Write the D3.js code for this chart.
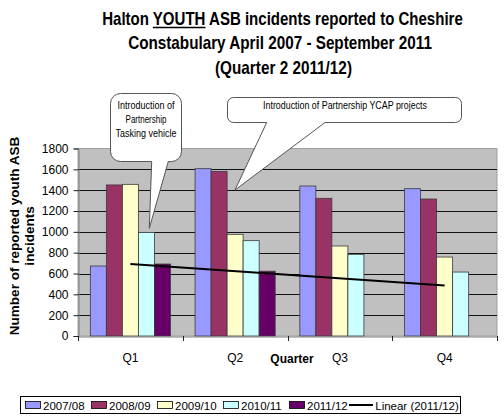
<!DOCTYPE html>
<html><head><meta charset="utf-8">
<script src="https://cdn.jsdelivr.net/npm/d3@7"></script>
<style>
html,body{margin:0;padding:0;background:#fff;}
svg{display:block;font-family:"Liberation Sans",Arial,sans-serif;}
</style></head>
<body>
<svg id="c" width="504" height="417"></svg>
<script>
const categories = ["Q1","Q2","Q3","Q4"];
const seriesNames = ["2007/08","2008/09","2009/10","2010/11","2011/12"];
const v2007 = [672, 1606, 1440, 1414];
const v2008 = [1450, 1581, 1322, 1315];
const v2009 = [1456, 976, 864, 758];
const v2010 = [995, 915, 784, 614];
const v2011 = [691, 622, null, null];
const yTicks = [0,200,400,600,800,1000,1200,1400,1600,1800];
const colors = ["#9999FF","#993366","#FFFFCC","#CCFFFF","#660066"];
const seriesValues = [v2007, v2008, v2009, v2010, v2011];

const svg = d3.select("#c");
const L = 78, R = 497, T = 148.5, B = 336;

const x = d3.scaleBand().domain(categories).range([L, R]).padding(0);
const x1 = d3.scaleBand().domain(seriesNames).range([0, x.bandwidth()]).paddingInner(0).paddingOuter(0.77);
const y = d3.scaleLinear().domain([0, 1800]).range([B, T]);

// horizontally condensed text, centred at (cx, by)
function fitText(parent, str, cx, by, width){
  const g = parent.append("g");
  const t = g.append("text").attr("x",0).attr("y",0).attr("text-anchor","middle").text(str);
  const w = t.node().getComputedTextLength();
  const k = Math.min(1, width / w);
  g.attr("transform",`translate(${cx},${by}) scale(${k},1)`);
  return {g, t, k};
}

// Title
const title = svg.append("g").attr("font-weight","bold").attr("font-size",17.5).attr("fill","#000");
const line1 = "Halton YOUTH ASB incidents reported to Cheshire";
const f1 = fitText(title, line1, 282.5, 25, 361);
const ui = line1.indexOf("YOUTH");
const n1 = f1.t.node();
const ux0 = n1.getStartPositionOfChar(ui).x, ux1 = n1.getEndPositionOfChar(ui+4).x;
f1.g.append("line").attr("x1",ux0).attr("x2",ux1).attr("y1",2.5).attr("y2",2.5).attr("stroke","#000").attr("stroke-width",1.4);
fitText(title, "Constabulary April 2007 - September 2011", 280, 49, 304);
fitText(title, "(Quarter 2 2011/12)", 283.5, 73.5, 137);

// Plot background
svg.append("rect").attr("x",L).attr("y",T).attr("width",R-L).attr("height",B-T)
  .attr("fill","#C0C0C0").attr("stroke","#A0A0A0").attr("stroke-width",1);

// gridlines
svg.append("g").selectAll("line").data(yTicks.filter(d=>d>0 && d<1800)).join("line")
  .attr("x1",L).attr("x2",R)
  .attr("y1",d=>Math.round(y(d))+0.5).attr("y2",d=>Math.round(y(d))+0.5)
  .attr("stroke","#111").attr("stroke-width",1);

// bars
const groups = svg.append("g").selectAll("g").data(seriesNames).join("g")
  .attr("fill",(d,i)=>colors[i]);
groups.selectAll("rect").data((s,i)=>categories.map((c,j)=>({c, s, v: seriesValues[i][j]})).filter(d=>d.v!=null))
  .join("rect")
  .attr("x",d=>x(d.c)+x1(d.s))
  .attr("width",x1.bandwidth())
  .attr("y",d=>y(d.v))
  .attr("height",d=>B-y(d.v))
  .attr("stroke","#3a3a3a").attr("stroke-width",0.8);

// trendline (linear regression of 2011/12 series)
const pts = v2011.map((v,i)=>[i+1,v]).filter(p=>p[1]!=null);
const mx = d3.mean(pts,p=>p[0]), my = d3.mean(pts,p=>p[1]);
const slope = d3.sum(pts,p=>(p[0]-mx)*(p[1]-my))/d3.sum(pts,p=>(p[0]-mx)**2);
const icpt = my - slope*mx;
const trend = categories.map((c,i)=>({c, v: icpt + slope*(i+1)}));
svg.append("path").datum([trend[0], trend[trend.length-1]])
  .attr("d", d3.line().x(d=>x(d.c)+x.bandwidth()/2).y(d=>y(d.v)))
  .attr("stroke","#000").attr("stroke-width",2).attr("fill","none");

// Y axis
const yAxis = svg.append("g").attr("transform",`translate(${L+0.5},0)`)
  .call(d3.axisLeft(y).tickValues(yTicks).tickSize(5).tickPadding(5).tickFormat(d3.format("d")));
yAxis.select(".domain").attr("stroke","#808080");
yAxis.selectAll(".tick line").attr("stroke","#222");
yAxis.selectAll(".tick text").attr("font-size",12).attr("font-family","Liberation Sans, Arial, sans-serif").attr("fill","#000");

// X axis
const xAxis = svg.append("g").attr("transform",`translate(0,${B+0.5})`)
  .call(d3.axisBottom(x).tickSize(0).tickPadding(17));
xAxis.select(".domain").attr("stroke","#808080");
xAxis.selectAll(".tick text").attr("font-size",12).attr("font-family","Liberation Sans, Arial, sans-serif").attr("fill","#000");
svg.append("g").selectAll("line").data(categories.map(c=>x(c)).concat([R])).join("line")
  .attr("x1",d=>Math.round(d)+0.5).attr("x2",d=>Math.round(d)+0.5)
  .attr("y1",B).attr("y2",B+5).attr("stroke","#222");

// axis titles
svg.append("text").attr("x",292).attr("y",363).attr("text-anchor","middle")
  .attr("font-size",12).attr("font-weight","bold").text("Quarter");
const yt = svg.append("g").attr("transform","translate(0,236) rotate(-90)")
  .attr("font-size",13.5).attr("font-weight","bold");
fitText(yt, "Number of reported youth ASB", 0, 19, 218);
fitText(yt, "incidents", 0, 34, 66);

// Callouts
function callout(x0,y0,x1c,y1c,r,b0,b1,tx,ty){
  const p = d3.path();
  p.moveTo(x0+r,y0);
  p.lineTo(x1c-r,y0); p.arcTo(x1c,y0,x1c,y0+r,r);
  p.lineTo(x1c,y1c-r); p.arcTo(x1c,y1c,x1c-r,y1c,r);
  p.lineTo(b1,y1c); p.lineTo(tx,ty); p.lineTo(b0,y1c);
  p.lineTo(x0+r,y1c); p.arcTo(x0,y1c,x0,y1c-r,r);
  p.lineTo(x0,y0+r); p.arcTo(x0,y0,x0+r,y0,r);
  p.closePath();
  return p.toString();
}
svg.append("path").attr("d",callout(110.5,93.5,181.5,161.5,10,151.7,168.3,149.3,228.3))
  .attr("fill","#fff").attr("stroke","#555").attr("stroke-width",1);
svg.append("path").attr("d",callout(227.5,97.5,461.5,122.5,6,266.7,325,235,190))
  .attr("fill","#fff").attr("stroke","#555").attr("stroke-width",1);
const ct = svg.append("g").attr("font-size",10.5).attr("fill","#000");
[["Introduction of",109,57],["Partnership",123,41],["Tasking vehicle",137,61]].forEach(([t,yy,w])=>
  fitText(ct, t, 146, yy, w));
fitText(ct, "Introduction of Partnership YCAP projects", 345, 109, 164);

// Legend
const lg = svg.append("g").attr("font-size",11.5);
lg.append("rect").attr("x",20.5).attr("y",396.5).attr("width",440).attr("height",17)
  .attr("fill","#fff").attr("stroke","#000").attr("stroke-width",1);
seriesNames.forEach((s,i)=>{
  const lx = 25 + i*66;
  lg.append("rect").attr("x",lx+0.5).attr("y",401.5).attr("width",15).attr("height",7)
    .attr("fill",colors[i]).attr("stroke","#000").attr("stroke-width",0.8);
  lg.append("text").attr("x",lx+18).attr("y",409.5).text(s);
});
lg.append("line").attr("x1",349).attr("x2",373).attr("y1",405).attr("y2",405).attr("stroke","#000").attr("stroke-width",2);
const lt = fitText(lg, "Linear (2011/12)", 0, 0, 84);
lt.g.attr("transform",`translate(${375 + 42},409.5) scale(${lt.k},1)`);
</script>
</body></html>
